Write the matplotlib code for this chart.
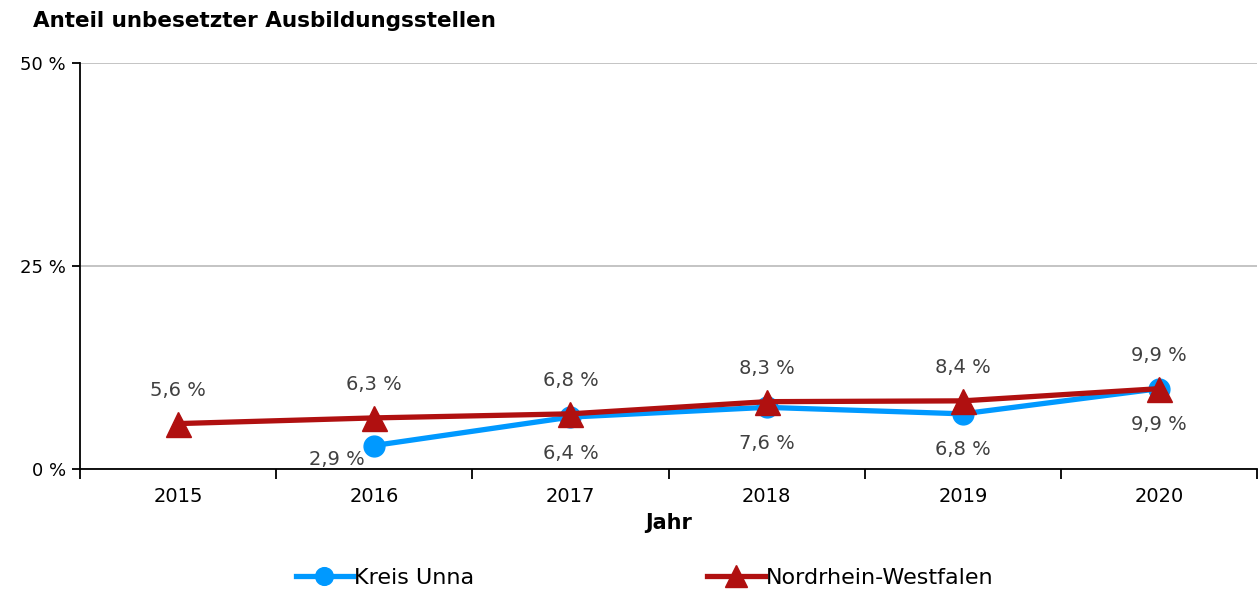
import matplotlib.pyplot as plt

years = ["2015", "2016", "2017", "2018", "2019", "2020"]
unna = [None, 2.9, 6.4, 7.6, 6.8, 9.9]
nrw = [5.6, 6.3, 6.8, 8.3, 8.4, 9.9]
yticks = [0, 25, 50]

blue = "#0099ff"
red = "#b01010"
label_col = "#404040"

fig = plt.figure(figsize=(12.59, 5.9), dpi=100)
ax = fig.add_axes([0.0635, 0.205, 0.935, 0.688])

x = list(range(len(years)))
ux = [i for i, v in zip(x, unna) if v is not None]
uy = [v for v in unna if v is not None]

ax.plot(ux, uy, color=blue, lw=3.8, marker="o", ms=15, label="Kreis Unna", zorder=3)
ax.plot(x, nrw, color=red, lw=3.8, marker="^", ms=18, label="Nordrhein-Westfalen", zorder=4)

def fmt(v):
    return f"{v:.1f} %".replace(".", ",")

for i, v in zip(ux, uy):
    if i == 1:
        ax.annotate(fmt(v), (i, v), xytext=(-27, -10), textcoords="offset points",
                    ha="center", va="center", fontsize=14, color=label_col)
    else:
        ax.annotate(fmt(v), (i, v), xytext=(0, -26), textcoords="offset points",
                    ha="center", va="center", fontsize=14, color=label_col)
for i, v in zip(x, nrw):
    ax.annotate(fmt(v), (i, v), xytext=(0, 24), textcoords="offset points",
                ha="center", va="center", fontsize=14, color=label_col)

ax.set_xlim(-0.5, len(years) - 0.5)
ax.set_ylim(0, 50)
ax.set_yticks(yticks)
ax.set_yticklabels([f"{t} %" for t in yticks], fontsize=13)
ax.set_xticks(x)
ax.set_xticklabels(years, fontsize=14)
ax.tick_params(axis="x", length=0, pad=13)
ax.set_xticks([i - 0.5 for i in range(len(years) + 1)], minor=True)
ax.tick_params(axis="x", which="minor", length=7, width=1.3, direction="out")
ax.tick_params(axis="y", length=6, width=1.3, direction="out", pad=4)

ax.yaxis.grid(True, color="#bfbfbf", lw=1.3)
ax.set_axisbelow(True)
for s in ["top", "right"]:
    ax.spines[s].set_visible(False)
ax.spines["left"].set_linewidth(1.3)
ax.spines["bottom"].set_linewidth(1.3)

ax.set_xlabel("Jahr", fontsize=15, fontweight="bold", labelpad=5)
fig.text(0.026, 0.965, "Anteil unbesetzter Ausbildungsstellen", fontsize=15.5,
         fontweight="bold", va="center", ha="left")

fig.legend(loc="center left", bbox_to_anchor=(0.219, 0.02), ncol=2, frameon=False,
           fontsize=16, columnspacing=10.5, handlelength=2.57, handletextpad=0.05,
           markerscale=0.85)

fig.savefig("out.png", dpi=100)
